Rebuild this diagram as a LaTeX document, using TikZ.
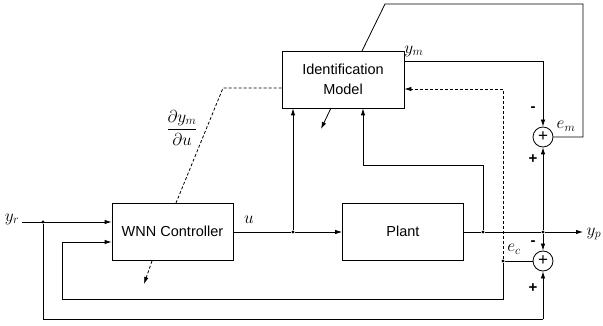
\documentclass[tikz,border=0pt]{standalone}
\usepackage{fontspec}
\usepackage{amsmath}
\setmainfont{Liberation Sans}
\usetikzlibrary{arrows.meta,calc}
\begin{document}
\begin{tikzpicture}[x=1pt,y=-1pt,
  line width=0.8pt,
  blk/.style={draw, minimum width=121pt, minimum height=57pt, inner sep=2pt,
    font=\fontsize{14.5}{20}\selectfont, align=center},
  sumnode/.style={draw, circle, minimum size=20pt, inner sep=0pt,
    font=\fontsize{17}{17}\selectfont},
  arr/.style={-{Latex[length=7pt,width=4.5pt]}},
  dsh/.style={dash pattern=on 3pt off 2pt},
  lbl/.style={font=\fontsize{17}{19}\selectfont},
  sgn/.style={font=\fontsize{15}{15}\selectfont\bfseries},
  dot/.style={circle, fill, inner sep=0pt, minimum size=3.4pt}
]
\useasboundingbox (0,0) rectangle (603,326);

% blocks
\node[blk] (wnn) at (172.5,231.5) {WNN Controller};
\node[blk] (plant) at (403,231.5) {Plant};
\node[blk, minimum width=122pt] (id) at (343,79.5) {Identification\\Model};
\node[sumnode] (s1) at (543,137) {+};
\node[sumnode] (s2) at (543,261) {+};

% junction points
\coordinate (yr0) at (22,222);
\node[dot] (j1) at (43,222) {};
\coordinate (fb1) at (62,242);
\coordinate (fb1b) at (62,299);
\coordinate (ecb) at (503,299);
\node[dot] (ec) at (503,261) {};
\node[dot] (ju) at (293,232) {};
\node[dot] (jp) at (483,232) {};
\node[dot] (jy) at (543,232) {};
\coordinate (yp) at (583,232);
\coordinate (jpup) at (483,165);
\coordinate (idin2) at (363,165);
\coordinate (ob) at (43,319);
\coordinate (obr) at (543,319);
\coordinate (ym1) at (543,61);
\coordinate (emr) at (583,137);
\coordinate (emt) at (583,4);
\coordinate (tl) at (385,4);
\coordinate (idtop) at (362,51);
\coordinate (dsh1) at (223,88);
\coordinate (wnntop) at (176,203);
\coordinate (ect) at (503,89);

% reference input
\draw[arr] (yr0) -- (wnn.west |- j1);
\draw (j1) -- (ob) -- (obr);
\draw[arr] (obr) -- (s2.south);

% controller error feedback
\draw[arr] (fb1b) -- (fb1) -- (wnn.west |- fb1);
\draw (s2.west) -- (ec) -- (ecb) -- (fb1b);

% control signal
\draw (wnn.east |- ju) -- (ju);
\draw[arr] (ju) -- (plant.west |- ju);
\draw[arr] (ju) -- (ju |- id.south);

% plant output
\draw (plant.east |- jp) -- (jp) -- (jy);
\draw[arr] (jy) -- (yp);
\draw (jp) -- (jpup) -- (idin2);
\draw[arr] (idin2) -- (idin2 |- id.south);
\draw[arr] (jy) -- (s1.south);
\draw[arr] (jy) -- (s2.north);

% model output
\draw (id.east |- ym1) -- (ym1);
\draw[arr] (ym1) -- (s1.north);

% model error feedback
\draw (s1.east) -- (emr) -- (emt) -- (tl) -- (idtop);

% sensitivity (dashed)
\draw[dsh] (id.west |- dsh1) -- (dsh1) -- (wnntop);
\draw[dsh, arr] (ec) -- (ect) -- (id.east |- ect);

% learning arrows
\coordinate (la1) at (331,108);
\coordinate (la1e) at (321,129);
\draw[arr] (la1) -- (la1e);
\coordinate (la2) at (152,261);
\coordinate (la2e) at (144,284);
\draw[dsh, arr] (la2) -- (la2e);

% labels
\node[lbl] at (12,219) {$y_r$};
\node[lbl] at (249,220) {$u$};
\node[lbl] at (594,234) {$y_p$};
\node[lbl] at (414,51) {$y_m$};
\node[lbl] at (566,126) {$e_m$};
\node[lbl] at (514,249) {$e_c$};
\node[lbl] at (182,128) {$\dfrac{\partial y_m}{\partial u}$};
\node[sgn] at (533,109) {-};
\node[sgn] at (533,159) {+};
\node[sgn] at (533,243) {-};
\node[sgn] at (533,288) {+};
\end{tikzpicture}
\end{document}
